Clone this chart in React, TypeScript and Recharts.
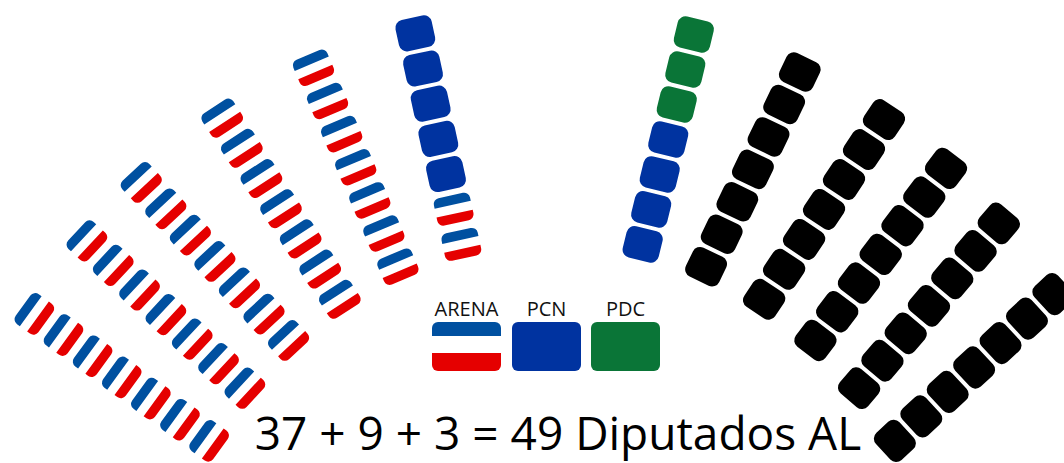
import React from 'react';
import { ScatterChart, Scatter, XAxis, YAxis } from 'recharts';

// ---- data ----
const PARTIES = ['ARENA', 'PCN', 'PDC', 'Otros'];
const SEATS = [37, 9, 3, 35];
const LEGEND_PARTIES = ['ARENA', 'PCN', 'PDC'];
const TITLE_SUFFIX = 'Diputados AL';
const SPOKE_COUNT = 12;
const SEATS_PER_SPOKE = 7;

// ---- layout (geometry of the fan) ----
const W = 1064;
const H = 463;
const SPOKE_TILT = [36, 43, 47, 57, 67, 77.7, 103.7, 115.7, 123.7, 127.2, 130.3, 137.2];
const FAN = { cx: 552, cy: 690, ra: 409, rb: 457, phi0: 36, step: 8.5, spacing: 36 };

const COLORS: Record<string, string> = {
  arenaBlue: '#0050A0',
  arenaRed: '#E50000',
  PCN: '#0033A0',
  PDC: '#0A7537',
  Otros: '#000000',
};

const rad = (d: number) => (d * Math.PI) / 180;

function buildSeats() {
  const owner: string[] = [];
  PARTIES.forEach((p, i) => {
    for (let n = 0; n < SEATS[i]; n++) owner.push(p);
  });
  const seats: any[] = [];
  const half = SPOKE_COUNT / 2;
  for (let k = 0; k < SPOKE_COUNT; k++) {
    const phi = k < half ? FAN.phi0 + FAN.step * k : 180 - (FAN.phi0 + FAN.step * (SPOKE_COUNT - 1 - k));
    const p = rad(phi);
    const r = 1 / Math.sqrt(Math.cos(p) ** 2 / FAN.ra ** 2 + Math.sin(p) ** 2 / FAN.rb ** 2);
    const bx = FAN.cx - r * Math.cos(p);
    const by = FAN.cy - r * Math.sin(p);
    const t = rad(SPOKE_TILT[k]);
    for (let j = 0; j < SEATS_PER_SPOKE; j++) {
      const idx = k * SEATS_PER_SPOKE + j;
      seats.push({
        x: bx - j * FAN.spacing * Math.cos(t),
        y: by - j * FAN.spacing * Math.sin(t),
        tilt: SPOKE_TILT[k],
        party: owner[idx],
      });
    }
  }
  return seats;
}

const ALL_SEATS = buildSeats();

function Seat(props: any) {
  const { cx, cy, payload } = props;
  if (cx == null || cy == null) return null;
  const rot = payload.tilt - 90;
  const tr = `translate(${cx},${cy}) rotate(${rot})`;
  if (payload.party === 'ARENA') {
    const w = 37, h = 28, r = 6, b = 9.5;
    const x0 = -w / 2, x1 = w / 2, y0 = -h / 2, y1 = h / 2;
    const top = `M${x0},${y0 + b} L${x0},${y0 + r} A${r},${r} 0 0 1 ${x0 + r},${y0} L${x1 - r},${y0} A${r},${r} 0 0 1 ${x1},${y0 + r} L${x1},${y0 + b} Z`;
    const bot = `M${x0},${y1 - b} L${x1},${y1 - b} L${x1},${y1 - r} A${r},${r} 0 0 1 ${x1 - r},${y1} L${x0 + r},${y1} A${r},${r} 0 0 1 ${x0},${y1 - r} Z`;
    return (
      <g transform={tr}>
        <path d={top} fill={COLORS.arenaBlue} />
        <path d={bot} fill={COLORS.arenaRed} />
      </g>
    );
  }
  return (
    <g transform={tr}>
      <rect x={-18.5} y={-16} width={37} height={32} rx={8} ry={8} fill={COLORS[payload.party]} />
    </g>
  );
}

function LegendItem({ party, x }: { party: string; x: number }) {
  const y = 322, w = 69, h = 49;
  const id = `clip-${party}`;
  return (
    <g>
      <text x={x + w / 2} y={316} textAnchor="middle" fontSize={20} fontFamily="'Open Sans', sans-serif" fill="#111">
        {party}
      </text>
      {party === 'ARENA' ? (
        <g>
          <defs>
            <clipPath id={id}>
              <rect x={x} y={y} width={w} height={h} rx={6} ry={6} />
            </clipPath>
          </defs>
          <g clipPath={`url(#${id})`}>
            <rect x={x} y={y} width={w} height={14} fill={COLORS.arenaBlue} />
            <rect x={x} y={y + 14} width={w} height={17} fill="#ffffff" />
            <rect x={x} y={y + 31} width={w} height={18} fill={COLORS.arenaRed} />
          </g>
        </g>
      ) : (
        <rect x={x} y={y} width={w} height={h} rx={6} ry={6} fill={COLORS[party]} />
      )}
    </g>
  );
}

export default function App() {
  const total = SEATS[0] + SEATS[1] + SEATS[2];
  const title = `${SEATS[0]} + ${SEATS[1]} + ${SEATS[2]} = ${total} ${TITLE_SUFFIX}`;
  const legendX = [432, 512, 591];
  return (
    <div style={{ position: 'absolute', left: 0, top: 0, width: W, height: H, background: '#fff', overflow: 'hidden' }}>
      <ScatterChart width={W} height={H} margin={{ top: 0, right: 0, bottom: 0, left: 0 }}>
        <XAxis type="number" dataKey="x" domain={[0, W]} hide allowDataOverflow />
        <YAxis type="number" dataKey="y" domain={[0, H]} reversed hide allowDataOverflow />
        {PARTIES.map((p) => (
          <Scatter
            key={p}
            name={p}
            data={ALL_SEATS.filter((s) => s.party === p)}
            shape={<Seat />}
            isAnimationActive={false}
          />
        ))}
      </ScatterChart>
      <svg width={W} height={H} style={{ position: 'absolute', left: 0, top: 0, pointerEvents: 'none' }}>
        {LEGEND_PARTIES.map((p, i) => (
          <LegendItem key={p} party={p} x={legendX[i]} />
        ))}
        <text x={558} y={450} textAnchor="middle" fontSize={46} fontFamily="'Open Sans', sans-serif" fill="#000">
          {title}
        </text>
      </svg>
    </div>
  );
}
